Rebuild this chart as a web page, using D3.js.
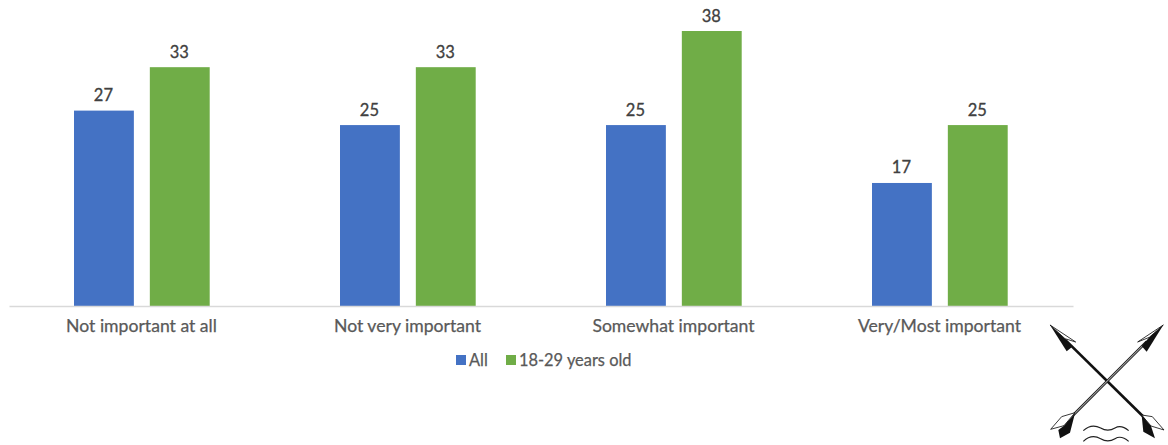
<!DOCTYPE html>
<html>
<head>
<meta charset="utf-8">
<script src="https://cdn.jsdelivr.net/npm/d3@7/dist/d3.min.js"></script>
<style>
  html, body { margin: 0; padding: 0; background: #fff; }
  svg { display: block; }
  text { font-family: "Lato", "Open Sans", sans-serif; }
</style>
</head>
<body>
<div id="chart"></div>
<script>
const categories = ["Not important at all", "Not very important", "Somewhat important", "Very/Most important"];
const seriesNames = ["All", "18-29 years old"];
const allValues = [27, 25, 25, 17];
const youngValues = [33, 33, 38, 25];
const seriesColors = ["#4472c4", "#70ad47"];

const width = 1168, height = 445;
const svg = d3.select("#chart").append("svg").attr("width", width).attr("height", height);

const x0 = d3.scaleBand().domain(categories).range([9, 1073]);
const x1 = d3.scaleBand().domain(seriesNames).range([-68, 67.7]).paddingInner(16 / 76).paddingOuter(0);
const y = d3.scaleLinear().domain([0, 38]).range([306, 31]);

const rows = seriesNames.map((name, i) => ({ name, color: seriesColors[i], values: i === 0 ? allValues : youngValues }));

const groups = svg.selectAll("g.series").data(rows).join("g").attr("class", "series");

groups.selectAll("rect")
  .data(s => s.values.map((v, i) => ({ v, cat: categories[i], name: s.name, color: s.color })))
  .join("rect")
  .attr("x", d => x0(d.cat) + x0.bandwidth() / 2 + x1(d.name))
  .attr("y", d => y(d.v))
  .attr("width", x1.bandwidth())
  .attr("height", d => y(0) - y(d.v))
  .attr("fill", d => d.color);

// Value labels sit just above each bar
groups.selectAll("text")
  .data(s => s.values.map((v, i) => ({ v, cat: categories[i], name: s.name })))
  .join("text")
  .attr("x", d => x0(d.cat) + x0.bandwidth() / 2 + x1(d.name) + x1.bandwidth() / 2 - 0.5)
  .attr("y", d => y(d.v) - 9.5)
  .attr("text-anchor", "middle")
  .attr("font-size", 16.5)
  .attr("stroke", "#404040")
  .attr("stroke-width", 0.3)
  .attr("fill", "#404040")
  .text(d => d.v);

// Category axis: a plain baseline with labels and no tick marks
const axis = svg.append("g")
  .attr("transform", `translate(0,${y(0)})`)
  .call(d3.axisBottom(x0).tickSize(0).tickPadding(14));
axis.select(".domain").attr("stroke", "#d9d9d9").attr("stroke-width", 1.3);
axis.selectAll("text")
  .attr("x", -0.5)
  .attr("font-size", 17.6)
  .attr("fill", "#595959")
  .attr("stroke", "#595959")
  .attr("stroke-width", 0.25)
  .style("font-family", '"Lato", "Open Sans", sans-serif');

// Legend
const legendItems = [{ x: 456, tx: 469 }, { x: 506, tx: 519 }];
const legend = svg.append("g");
rows.forEach((s, i) => {
  legend.append("rect").attr("x", legendItems[i].x).attr("y", 355).attr("width", 10).attr("height", 10).attr("fill", s.color);
  legend.append("text").attr("x", legendItems[i].tx).attr("y", 366)
    .attr("font-size", 16.4).attr("fill", "#595959")
    .attr("stroke", "#595959").attr("stroke-width", 0.25).text(s.name);
});

// Crossed arrows emblem with two wavy lines beneath
const ink = "#111";
const emblem = svg.append("g").attr("transform", "translate(1030,310) scale(0.3333)");
emblem.append("line").attr("x1", 105).attr("y1", 89).attr("x2", 348).attr("y2", 328)
  .attr("stroke", ink).attr("stroke-width", 8);
emblem.append("line").attr("x1", 350).attr("y1", 95).attr("x2", 130).attr("y2", 315)
  .attr("stroke", "#222").attr("stroke-width", 8);
emblem.append("line").attr("x1", 350).attr("y1", 95).attr("x2", 130).attr("y2", 315)
  .attr("stroke", "#e4e4e4").attr("stroke-width", 2.5);

const whiteBlades = [
  "M60,45 L137,96 L105,86 Z",
  "M400,45 L323,96 L358,82 Z",
  "M135,308 L95,320 L62,358 L102,347 Z",
  "M335,315 L367,320 L402,360 L363,348 Z"
];
const blackBlades = [
  "M60,45 L105,86 L125,112 L110,124 Z",
  "M400,45 L358,82 L335,108 L350,125 Z",
  "M135,310 L102,347 L85,360 L90,385 L120,368 Z",
  "M335,316 L363,348 L375,385 L340,365 Z"
];
whiteBlades.forEach(d => emblem.append("path").attr("d", d).attr("fill", "#fff").attr("stroke", ink).attr("stroke-width", 2.5).attr("stroke-linejoin", "round"));
blackBlades.forEach(d => emblem.append("path").attr("d", d).attr("fill", ink));

["M160,362 C178,345 195,345 212,354 C228,364 242,362 255,354 C270,345 282,350 296,362",
 "M160,394 C178,377 195,377 212,386 C228,396 242,394 255,386 C270,377 282,382 296,394"]
  .forEach(d => emblem.append("path").attr("d", d).attr("fill", "none").attr("stroke", "#222").attr("stroke-width", 3.5));
</script>
</body>
</html>
